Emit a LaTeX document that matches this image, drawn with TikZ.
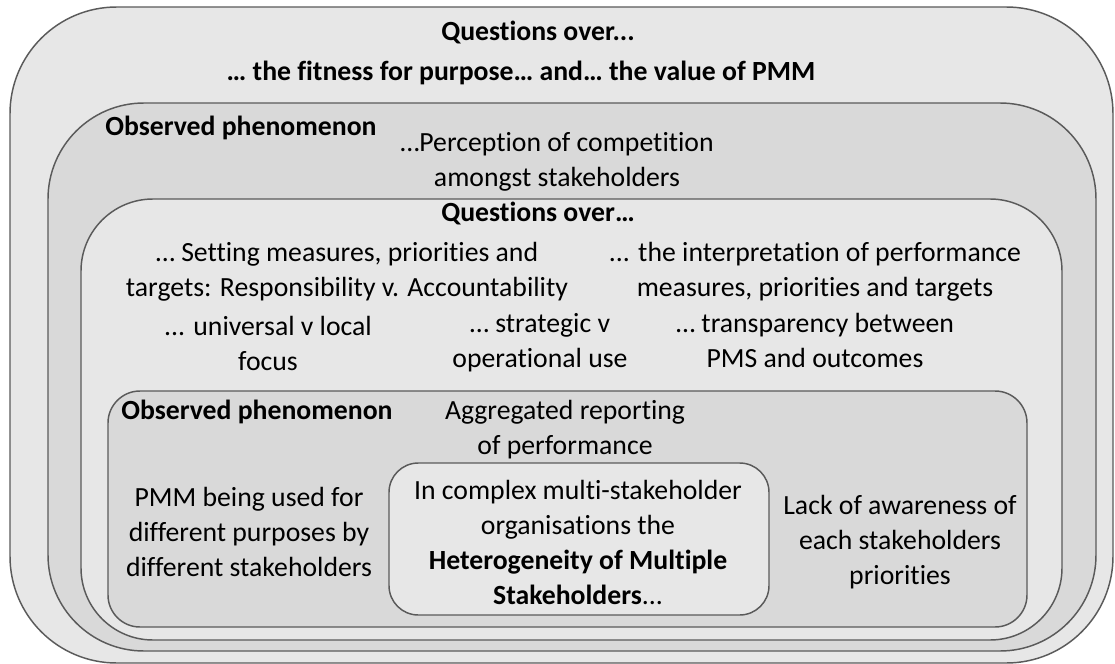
\documentclass[tikz,border=0pt]{standalone}
\usepackage{fontspec}
\setmainfont{Carlito}[Ligatures=NoCommon]
\definecolor{fillA}{HTML}{E7E7E7}
\definecolor{fillB}{HTML}{D9D9D9}
\definecolor{edge}{HTML}{5A5A5A}
\begin{document}
\begin{tikzpicture}[x=0.75pt,y=-0.75pt,
  every node/.style={inner sep=0pt, align=center, font=\fontsize{20.8}{26.25}\selectfont},
  boxA/.style={fill=fillA, draw=edge, line width=1.1pt},
  boxB/.style={fill=fillB, draw=edge, line width=1.1pt},
  hd/.style={font=\fontsize{20.8}{26.25}\selectfont\bfseries}]
\useasboundingbox (0,0) rectangle (1115,664);
\fill[white] (0,0) rectangle (1115,664);
% nested boxes
\draw[boxA, rounded corners=80pt] (10,7) rectangle (1113,663);
\draw[boxB, rounded corners=72pt] (48,103) rectangle (1096,651);
\draw[boxA, rounded corners=54pt] (81,199) rectangle (1062,640);
\draw[boxB, rounded corners=24pt] (108,391) rectangle (1027,627);
\draw[boxA, rounded corners=22pt] (389,463) rectangle (769,615);
% texts
\node[hd] (t1) at (538,33) {Questions over...};
\node[hd] (t2) at (521,73) {… the fitness for purpose… and… the value of PMM};
\node[hd, anchor=west] (o1) at (105,128) {Observed phenomenon};
\node (p1) at (557,162) {…Perception of competition\\amongst stakeholders};
\node[hd] (q2) at (538,214) {Questions over…};
\node (s1) at (347,272) {… Setting measures, priorities and\\targets: Responsibility v. Accountability};
\node (s2) at (815,272) {... the interpretation of performance\\measures, priorities and targets};
\node (s3) at (268,343) {... universal v local\\focus};
\node (s4) at (540,343) {… strategic v\\operational use};
\node (s5) at (815,340) {… transparency between\\PMS and outcomes};
\node[hd, anchor=west] (o2) at (121,412) {Observed phenomenon};
\node (a1) at (565,430) {Aggregated reporting\\of performance};
\node (l1) at (249,532) {PMM being used for\\different purposes by\\different stakeholders};
\node (c1) at (578,542) {In complex multi-stakeholder\\organisations the\\\textbf{Heterogeneity of Multiple}\\\textbf{Stakeholders}...};
\node (r1) at (900,542) {Lack of awareness of\\each stakeholders\\priorities};
\end{tikzpicture}
\end{document}
